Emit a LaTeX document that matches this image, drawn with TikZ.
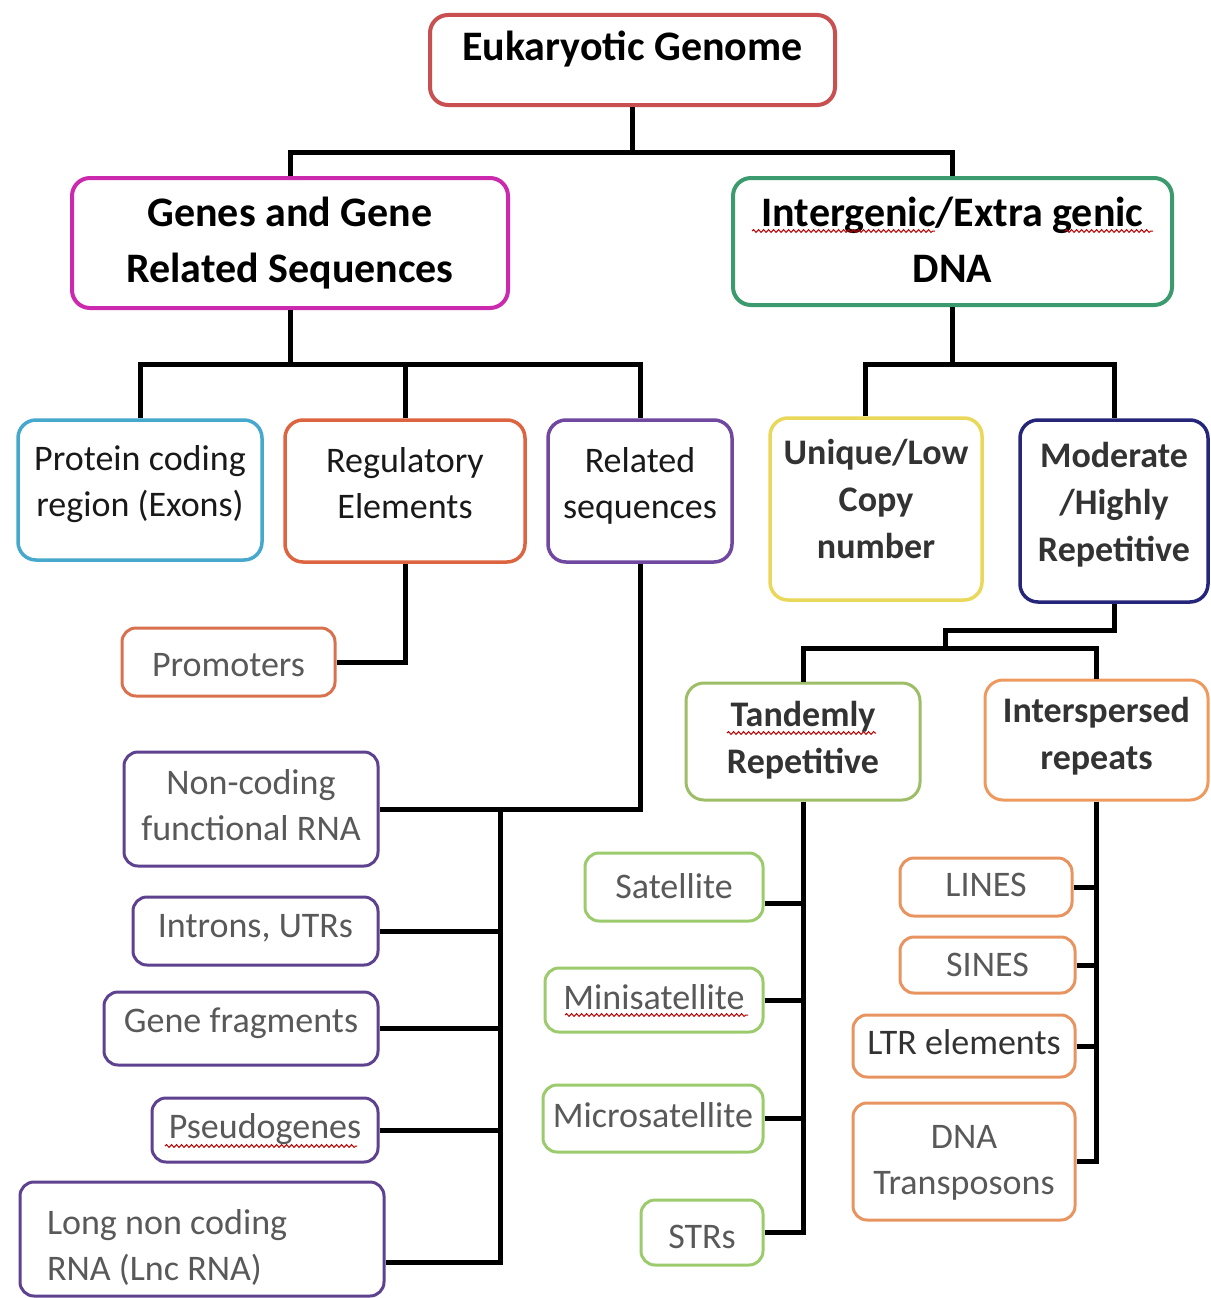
\documentclass[tikz,border=0pt]{standalone}
\usepackage{fontspec}
\setmainfont{Carlito}
\usepackage{tikz}
\usetikzlibrary{decorations.pathmorphing}
\definecolor{rootred}{HTML}{C85050}
\definecolor{genemag}{HTML}{CC2AAE}
\definecolor{intgreen}{HTML}{3C9B6E}
\definecolor{protcyan}{HTML}{45A8CC}
\definecolor{regorange}{HTML}{DD6440}
\definecolor{relpurple}{HTML}{7048A0}
\definecolor{uniqyellow}{HTML}{EAD85A}
\definecolor{modnavy}{HTML}{25257A}
\definecolor{promorange}{HTML}{D9714F}
\definecolor{lowpurple}{HTML}{5E4290}
\definecolor{tandgreen}{HTML}{9DBE66}
\definecolor{intorange}{HTML}{EE9A5E}
\definecolor{satgreen}{HTML}{9CCB6E}
\definecolor{lineorange}{HTML}{E89460}
\tikzset{
  box/.style={draw, fill=white, rounded corners=18pt, line width=3.5pt, inner xsep=0pt, inner ysep=0pt, align=center,
    execute at begin node={\spaceskip=0.23em\relax}},
  dims/.style n args={3}{text width=#1, text height=#2, text depth=#3},
  big/.style={font=\fontsize{42}{56}\selectfont\bfseries, text=black},
  mid/.style={font=\fontsize{36}{46}\selectfont, text=black!90},
  midb/.style={font=\fontsize{36}{47}\selectfont\bfseries, text=black!80},
  low/.style={font=\fontsize{36}{46}\selectfont, text=black!65, line width=3pt, rounded corners=14pt},
  wire/.style={line width=5pt},
  squig/.style={red!75!black, line width=1pt, decorate, decoration={snake, amplitude=1.4pt, segment length=5pt}},
}
\begin{document}
\begin{tikzpicture}[x=1pt,y=-1pt]
  \fill[white] (0,0) rectangle (1210,1298);
  \useasboundingbox (0,0) rectangle (1210,1298);

  % top levels
  \node[box,big,draw=rootred,line width=4pt,dims={405pt}{46pt}{44pt}] (genome) at (632.5,60) {Eukaryotic Genome};
  \node[box,big,draw=genemag,line width=4pt,dims={436pt}{48pt}{82pt}] (genes) at (290,243) {Genes and Gene\\Related Sequences};
  \node[box,big,draw=intgreen,line width=4pt,dims={439pt}{48pt}{79pt}] (intergenic) at (952.5,241.5) {Intergenic/Extra genic\\DNA};

  \node[box,mid,draw=protcyan,dims={244pt}{50pt}{90pt}] (protein) at (140,490) {Protein coding\\region (Exons)};
  \node[box,mid,draw=regorange,dims={240pt}{52pt}{90pt}] (regul) at (405,491) {Regulatory\\Elements};
  \node[box,mid,draw=relpurple,dims={184pt}{52pt}{90pt}] (related) at (640,491) {Related\\sequences};
  \node[box,midb,draw=uniqyellow,dims={212pt}{46pt}{136pt}] (unique) at (876,509) {Unique/Low\\Copy\\number};
  \node[box,midb,draw=modnavy,dims={188pt}{47pt}{135pt}] (moderate) at (1114,511) {Moderate\\/Highly\\Repetitive};

  % genes side
  \node[box,low,draw=promorange,dims={213pt}{48pt}{20pt}] (promoters) at (228.5,662) {Promoters};
  \node[box,low,draw=lowpurple,dims={254pt}{42pt}{72pt}] (ncrna) at (251,809) {Non-coding\\functional RNA};
  \node[box,low,draw=lowpurple,dims={245pt}{40pt}{28pt}] (introns) at (255.5,931) {Introns, UTRs};
  \node[box,low,draw=lowpurple,dims={274pt}{40pt}{33pt}] (fragments) at (241,1028.5) {Gene fragments};
  \node[box,low,draw=lowpurple,dims={226pt}{40pt}{24pt}] (pseudo) at (265,1130) {Pseudogenes};
  \node[box,low,draw=lowpurple,align=left,inner xsep=27pt,dims={310pt}{52pt}{62pt}] (lnc) at (202,1239) {Long non coding\\RNA (Lnc RNA)};

  % repeats side
  \node[box,midb,draw=tandgreen,line width=3pt,dims={234pt}{43pt}{74pt}] (tandem) at (803,741.5) {Tandemly\\Repetitive};
  \node[box,midb,draw=intorange,line width=3pt,dims={223pt}{42pt}{78pt}] (interspersed) at (1096.5,740) {Interspersed\\repeats};
  \node[box,low,draw=satgreen,dims={178pt}{45pt}{23pt}] (satellite) at (674,887) {Satellite};
  \node[box,low,draw=satgreen,dims={218pt}{41pt}{23pt}] (minisat) at (654,1000) {Minisatellite};
  \node[box,low,draw=satgreen,dims={220pt}{42pt}{25pt}] (microsat) at (653,1118.5) {Microsatellite};
  \node[box,low,draw=satgreen,dims={122pt}{48pt}{17pt}] (strs) at (702,1232.5) {STRs};
  \node[box,low,draw=lineorange,dims={172pt}{38pt}{20pt}] (lines) at (986,887) {LINES};
  \node[box,low,draw=lineorange,dims={175pt}{39pt}{17pt}] (sines) at (987.5,965) {SINES};
  \node[box,low,draw=lineorange,text=black!80,dims={222pt}{39pt}{23pt}] (ltr) at (964,1046) {LTR elements};
  \node[box,low,draw=lineorange,dims={222pt}{45pt}{72pt}] (dnatrans) at (964,1161.5) {DNA\\Transposons};

  % spelling marks
  \draw[squig] (752,231) -- (935,231);
  \draw[squig] (1065,231) -- (1153,231);
  \draw[squig] (727,733) -- (876,733);
  \draw[squig] (165,1146) -- (357,1146);
  \draw[squig] (565,1015) -- (748,1015);

  % connectors
  \draw[wire] (genome.south) -- ++(0,45) coordinate (j0);
  \draw[wire] (genes.north) |- (j0) -| (intergenic.north);
  \draw[wire] (genes.south) -- ++(0,54) coordinate (j1);
  \draw[wire] (protein.north) |- (j1) -| (related.north);
  \draw[wire] (regul.north) -- (regul.north |- j1);
  \draw[wire] (intergenic.south) -- ++(0,57) coordinate (j2);
  \draw[wire] ([xshift=-11pt]unique.north) |- (j2) -| (moderate.north);

  \draw[wire] (regul.south) |- (promoters.east);
  \draw[wire] (related.south) |- (ncrna.east);
  \coordinate (s1) at (500,809);
  \draw[wire] (s1) |- ([yshift=-23pt]lnc.east);
  \foreach \n in {introns,fragments,pseudo}
    \draw[wire] (\n.east) -- (\n.east -| s1);

  \coordinate (j3) at (945,648);
  \draw[wire] (moderate.south) |- ([yshift=18pt]j3) -- (j3);
  \draw[wire] (tandem.north) |- (j3) -| (interspersed.north);
  \draw[wire] (tandem.south) |- (strs.east);
  \draw[wire] ([yshift=-16pt]satellite.east) -- ([yshift=-16pt]satellite.east -| tandem.south);
  \foreach \n in {minisat,microsat}
    \draw[wire] (\n.east) -- (\n.east -| tandem.south);
  \draw[wire] (interspersed.south) |- (dnatrans.east);
  \foreach \n in {lines,sines,ltr}
    \draw[wire] (\n.east) -- (\n.east -| interspersed.south);
\end{tikzpicture}
\end{document}
